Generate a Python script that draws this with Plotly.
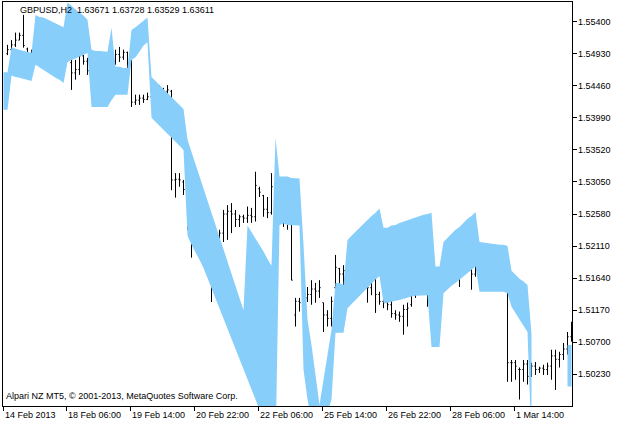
import plotly.graph_objects as go

# ---------------- data ----------------
bar_index = list(range(1, 143))

opens = [1.5493,1.5499,1.5506,1.5513,1.5520,1.5500,1.5475,1.5490,1.5525,1.5513,
         1.5520,1.5518,1.5500,1.5490,1.5486,1.5490,1.5480,1.5465,1.5470,1.5490,
         1.5482,1.5468,1.5470,1.5466,1.5474,1.5472,1.5470,1.5478,1.5492,1.5488,
         1.5495,1.5478,1.5422,1.5425,1.5428,1.5426,1.5430,1.5433,1.5445,1.5440,
         1.5438,1.5438,1.5308,1.5309,1.5305,1.5294,1.5260,1.5249,1.5236,1.5232,
         1.5230,1.5210,1.5190,1.5188,1.5230,1.5258,1.5262,1.5258,1.5250,1.5254,
         1.5252,1.5256,1.5254,1.5295,1.5285,1.5265,1.5260,1.5298,1.5270,1.5250,
         1.5247,1.5246,1.5110,1.5130,1.5128,1.5135,1.5140,1.5148,1.5145,1.5128,
         1.5110,1.5105,1.5150,1.5178,1.5170,1.5175,1.5180,1.5200,1.5180,1.5170,
         1.5200,1.5150,1.5180,1.5140,1.5130,1.5128,1.5125,1.5112,1.5110,1.5108,
         1.5118,1.5125,1.5155,1.5150,1.5165,1.5140,1.5128,1.5155,1.5158,1.5160,
         1.5165,1.5168,1.5166,1.5180,1.5170,1.5200,1.5180,1.5170,1.5180,1.5165,
         1.5172,1.5175,1.5168,1.5176,1.5170,1.5172,1.5040,1.5040,1.5030,1.5030,
         1.5038,1.5020,1.5035,1.5030,1.5032,1.5030,1.5035,1.5050,1.5045,1.5052,
         1.5060,1.5078]
highs = [1.5506,1.5513,1.5524,1.5524,1.5550,1.5502,1.5499,1.5543,1.5543,1.5528,
         1.5525,1.5525,1.5506,1.5499,1.5499,1.5502,1.5484,1.5484,1.5506,1.5491,
         1.5487,1.5477,1.5477,1.5480,1.5484,1.5480,1.5481,1.5499,1.5503,1.5499,
         1.5496,1.5484,1.5433,1.5433,1.5433,1.5436,1.5436,1.5452,1.5447,1.5443,
         1.5447,1.5440,1.5318,1.5318,1.5308,1.5304,1.5279,1.5250,1.5239,1.5235,
         1.5233,1.5213,1.5195,1.5235,1.5264,1.5271,1.5274,1.5264,1.5257,1.5257,
         1.5269,1.5267,1.5320,1.5298,1.5286,1.5283,1.5318,1.5308,1.5271,1.5252,
         1.5252,1.5250,1.5135,1.5135,1.5142,1.5151,1.5161,1.5157,1.5161,1.5128,
         1.5117,1.5137,1.5198,1.5179,1.5183,1.5183,1.5217,1.5217,1.5194,1.5210,
         1.5217,1.5194,1.5208,1.5144,1.5137,1.5135,1.5132,1.5117,1.5115,1.5125,
         1.5128,1.5166,1.5157,1.5172,1.5188,1.5142,1.5161,1.5161,1.5164,1.5172,
         1.5173,1.5169,1.5203,1.5194,1.5213,1.5223,1.5183,1.5195,1.5183,1.5176,
         1.5179,1.5176,1.5183,1.5186,1.5183,1.5176,1.5044,1.5044,1.5033,1.5044,
         1.5044,1.5040,1.5041,1.5034,1.5037,1.5040,1.5059,1.5059,1.5056,1.5069,
         1.5085,1.5100]
lows = [1.5491,1.5499,1.5503,1.5513,1.5502,1.5462,1.5477,1.5481,1.5506,1.5513,
        1.5513,1.5513,1.5484,1.5480,1.5480,1.5481,1.5440,1.5455,1.5462,1.5477,
        1.5462,1.5459,1.5459,1.5465,1.5466,1.5462,1.5469,1.5477,1.5481,1.5484,
        1.5455,1.5415,1.5418,1.5418,1.5421,1.5425,1.5425,1.5430,1.5436,1.5433,
        1.5421,1.5293,1.5282,1.5298,1.5286,1.5235,1.5194,1.5235,1.5225,1.5225,
        1.5210,1.5129,1.5169,1.5188,1.5217,1.5220,1.5230,1.5239,1.5239,1.5245,
        1.5245,1.5245,1.5247,1.5283,1.5254,1.5252,1.5257,1.5264,1.5252,1.5239,
        1.5235,1.5161,1.5093,1.5115,1.5120,1.5129,1.5125,1.5128,1.5135,1.5085,
        1.5093,1.5093,1.5142,1.5154,1.5151,1.5166,1.5173,1.5169,1.5161,1.5164,
        1.5128,1.5139,1.5113,1.5125,1.5120,1.5117,1.5106,1.5103,1.5100,1.5081,
        1.5093,1.5122,1.5135,1.5142,1.5150,1.5122,1.5120,1.5154,1.5151,1.5158,
        1.5161,1.5158,1.5161,1.5151,1.5169,1.5176,1.5147,1.5166,1.5151,1.5164,
        1.5164,1.5161,1.5166,1.5161,1.5164,1.5012,1.5012,1.5015,1.4986,1.5012,
        1.5008,1.5019,1.5022,1.5025,1.5022,1.5022,1.5015,1.5000,1.5033,1.5044,
        1.5052,1.5071]
closes = [1.5499,1.5506,1.5513,1.5520,1.5505,1.5475,1.5490,1.5525,1.5513,1.5520,
          1.5518,1.5515,1.5490,1.5486,1.5490,1.5498,1.5465,1.5470,1.5490,1.5482,
          1.5468,1.5470,1.5466,1.5474,1.5472,1.5468,1.5478,1.5492,1.5488,1.5495,
          1.5462,1.5422,1.5425,1.5428,1.5426,1.5430,1.5433,1.5445,1.5440,1.5438,
          1.5440,1.5308,1.5309,1.5308,1.5294,1.5260,1.5249,1.5240,1.5232,1.5230,
          1.5215,1.5190,1.5188,1.5230,1.5258,1.5262,1.5258,1.5250,1.5254,1.5252,
          1.5256,1.5254,1.5300,1.5290,1.5265,1.5260,1.5298,1.5270,1.5258,1.5247,
          1.5246,1.5161,1.5130,1.5128,1.5135,1.5140,1.5148,1.5145,1.5150,1.5110,
          1.5105,1.5130,1.5180,1.5170,1.5175,1.5180,1.5200,1.5180,1.5170,1.5200,
          1.5150,1.5180,1.5140,1.5130,1.5128,1.5125,1.5112,1.5110,1.5108,1.5118,
          1.5120,1.5155,1.5150,1.5165,1.5160,1.5128,1.5155,1.5158,1.5160,1.5165,
          1.5168,1.5166,1.5180,1.5170,1.5200,1.5185,1.5170,1.5180,1.5165,1.5172,
          1.5175,1.5168,1.5176,1.5170,1.5172,1.5040,1.5040,1.5035,1.5030,1.5038,
          1.5020,1.5035,1.5030,1.5032,1.5030,1.5035,1.5050,1.5045,1.5052,1.5060,
          1.5078,1.5086]

# filled band (index 0..142), None = no fill
band_upper = [1.5466,1.5466,1.5502,1.5500,1.5499,1.5497,1.5496,1.5494,1.5550,1.5547,
              1.5546,1.5543,1.5540,1.5538,1.5535,1.5532,1.5568,1.5563,1.5557,1.5553,
              1.5549,1.5543,1.5499,1.5497,1.5497,1.5496,1.5496,1.5531,1.5474,1.5474,
              1.5472,1.5472,1.5528,1.5532,1.5537,1.5541,1.5546,1.5459,1.5453,1.5447,
              1.5442,1.5436,1.5430,1.5424,1.5418,1.5412,1.5367,1.5349,1.5332,1.5314,
              1.5296,1.5279,1.5260,1.5242,1.5225,1.5207,1.5189,1.5172,1.5154,1.5135,
              1.5117,1.5241,1.5232,1.5223,1.5213,1.5203,1.5192,1.5182,1.5370,1.5313,
              1.5313,1.5313,1.5311,1.5311,1.5310,1.5213,1.5103,1.5066,1.5022,1.4978,
              1.5015,1.5052,1.5088,1.5157,1.5157,1.5154,1.5220,1.5226,1.5232,1.5238,
              1.5244,1.5249,1.5255,1.5260,1.5266,1.5238,1.5238,1.5241,1.5242,1.5245,
              1.5247,1.5249,1.5251,1.5254,1.5255,1.5257,1.5258,1.5260,1.5181,1.5181,
              1.5217,1.5223,1.5229,1.5235,1.5239,1.5245,1.5251,1.5255,1.5261,1.5217,
              1.5216,1.5216,1.5214,1.5214,1.5213,1.5213,1.5211,1.5175,1.5169,1.5163,
              1.5159,1.5154,1.5082,None,None,None,None,None,None,None,
              None,1.5066,1.5066]
band_lower = [1.5411,1.5411,1.5461,1.5459,1.5458,1.5456,1.5455,1.5453,1.5477,1.5474,
              1.5469,1.5465,1.5462,1.5458,1.5455,1.5450,1.5481,1.5484,1.5486,1.5488,
              1.5491,1.5494,1.5415,1.5415,1.5415,1.5415,1.5415,1.5425,1.5433,1.5433,
              1.5433,1.5433,1.5484,1.5488,1.5496,1.5505,1.5510,1.5399,1.5393,1.5387,
              1.5381,1.5376,1.5370,1.5364,1.5358,1.5352,1.5226,1.5213,1.5201,1.5191,
              1.5179,1.5164,1.5150,1.5134,1.5119,1.5104,1.5090,1.5074,1.5059,1.5044,
              1.5030,1.5015,1.5000,1.4986,1.4971,1.4956,1.4942,1.4927,1.4912,1.5242,
              1.5244,1.5242,1.5242,1.5241,1.5241,1.5030,1.4986,1.4956,1.4942,1.4927,
              1.4942,1.4964,1.4986,1.5084,1.5084,1.5084,1.5120,1.5126,1.5132,1.5138,
              1.5144,1.5150,1.5156,1.5162,1.5167,1.5128,1.5128,1.5129,1.5131,1.5132,
              1.5134,1.5135,1.5137,1.5138,1.5138,1.5139,1.5139,1.5063,1.5063,1.5063,
              1.5142,1.5147,1.5153,1.5157,1.5162,1.5167,1.5172,1.5176,1.5181,1.5144,
              1.5144,1.5144,1.5144,1.5144,1.5144,1.5144,1.5142,1.5122,1.5113,1.5103,
              1.5094,1.5085,1.4927,None,None,None,None,None,None,None,
              None,1.5005,1.5005]

price_ticks = [1.55400, 1.54930, 1.54460, 1.53990, 1.53520, 1.53050, 1.52580,
               1.52110, 1.51640, 1.51170, 1.50700, 1.50230]
date_labels = ["14 Feb 2013", "18 Feb 06:00", "19 Feb 14:00", "20 Feb 22:00",
               "22 Feb 06:00", "25 Feb 14:00", "26 Feb 22:00", "28 Feb 06:00",
               "1 Mar 14:00"]
date_label_bars = [0, 15.75, 31.75, 47.75, 63.75, 79.75, 95.75, 111.75, 127.75]

title_text = "GBPUSD,H2  1.63671 1.63728 1.63529 1.63611"
copyright_text = "Alpari NZ MT5, © 2001-2013, MetaQuotes Software Corp."

# ---------------- build band polygons ----------------
poly_x, poly_y = [], []
seg = []
for i in range(len(band_upper) + 1):
    if i < len(band_upper) and band_upper[i] is not None:
        seg.append(i)
    else:
        if seg:
            poly_x += seg + seg[::-1] + [seg[0], None]
            poly_y += [band_upper[k] for k in seg] + [band_lower[k] for k in seg[::-1]] + [band_upper[seg[0]], None]
        seg = []

FONT = "Liberation Sans"
Y_LO, Y_HI = 1.497651, 1.556889
X_LO, X_HI = -0.125, 142.125   # half-pixel offset keeps 1px bar lines crisp

fig = go.Figure()
fig.add_trace(go.Scatter(x=poly_x, y=poly_y, mode="lines", fill="toself",
                         fillcolor="#87CEFA", line=dict(width=0, color="#87CEFA"),
                         hoverinfo="skip", showlegend=False))
fig.add_trace(go.Ohlc(x=bar_index, open=opens, high=highs, low=lows, close=closes,
                      increasing=dict(line=dict(color="black", width=1)),
                      decreasing=dict(line=dict(color="black", width=1)),
                      tickwidth=0.3, showlegend=False))

annotations = []
for lbl, xb in zip(date_labels, date_label_bars):
    annotations.append(dict(x=xb, y=-0.022, xref="x", yref="paper", text=lbl,
                            showarrow=False, xanchor="left", yanchor="middle",
                            xshift=-1, font=dict(family=FONT, size=9, color="black")))
for v in price_ticks:
    annotations.append(dict(x=1, y=v, xref="paper", yref="y", text=f"{v:.5f}",
                            showarrow=False, xanchor="left", yanchor="middle",
                            xshift=4, font=dict(family=FONT, size=9, color="black")))
annotations.append(dict(x=0.026, y=0.98, xref="paper", yref="paper", text=title_text,
                        showarrow=False, xanchor="left", yanchor="middle",
                        font=dict(family=FONT, size=9, color="black")))
annotations.append(dict(x=0.002, y=0.025, xref="paper", yref="paper", text=copyright_text,
                        showarrow=False, xanchor="left", yanchor="middle",
                        font=dict(family=FONT, size=9, color="black")))

fig.update_layout(
    width=621, height=423,
    margin=dict(l=3, r=49, t=2, b=17, pad=0, autoexpand=False),
    paper_bgcolor="white", plot_bgcolor="white",
    showlegend=False,
    annotations=annotations,
    xaxis=dict(range=[X_LO, X_HI], showgrid=False, zeroline=False,
               showline=True, linecolor="black", linewidth=1, mirror=True,
               tickmode="array", tickvals=date_label_bars, ticktext=[""] * len(date_label_bars),
               ticks="outside", ticklen=4, tickcolor="black", tickwidth=1,
               rangeslider=dict(visible=False), fixedrange=True),
    yaxis=dict(range=[Y_LO, Y_HI], side="right", showgrid=False, zeroline=False,
               showline=True, linecolor="black", linewidth=1, mirror=True,
               tickmode="array", tickvals=price_ticks, ticktext=[""] * len(price_ticks),
               ticks="outside", ticklen=4, tickcolor="black", tickwidth=1,
               fixedrange=True),
)

fig.write_html("out.html", config={"displayModeBar": False, "staticPlot": True},
               post_script="document.body.style.margin='0';document.body.style.padding='0';")
